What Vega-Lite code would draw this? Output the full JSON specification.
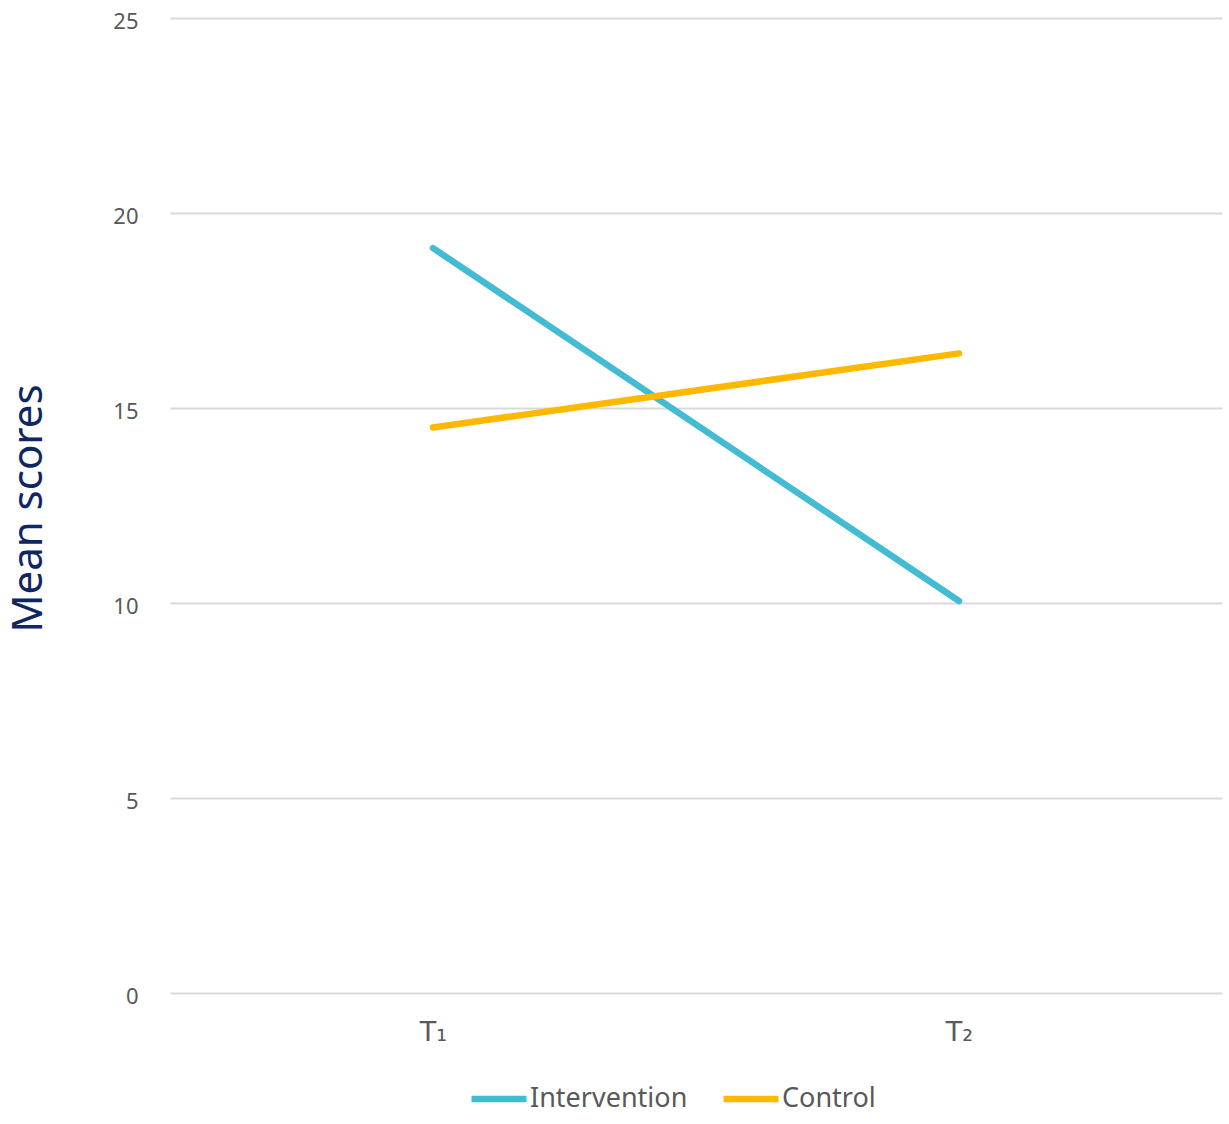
{
  "$schema": "https://vega.github.io/schema/vega-lite/v6.json",
  "autosize": {"type": "none"},
  "width": 1052,
  "height": 975,
  "padding": {"left": 170, "top": 18, "right": 7, "bottom": 131},
  "background": "white",
  "config": {"view": {"stroke": null}},
  "data": {
    "values": [
      {"time": "T₁", "group": "Intervention", "score": 19.1},
      {"time": "T₂", "group": "Intervention", "score": 10.05},
      {"time": "T₁", "group": "Control", "score": 14.5},
      {"time": "T₂", "group": "Control", "score": 16.4}
    ]
  },
  "mark": {"type": "line", "strokeWidth": 6.5, "strokeCap": "round"},
  "encoding": {
    "x": {
      "field": "time", "type": "nominal", "sort": ["T₁", "T₂"],
      "scale": {"paddingInner": 0, "paddingOuter": 0, "align": 0.5},
      "axis": {"title": null, "labelAngle": 0, "labelFontSize": 27, "labelColor": "#595959", "labelFont": "DejaVu Sans", "labelPadding": 26, "ticks": false, "domain": false, "grid": false}
    },
    "y": {
      "field": "score", "type": "quantitative",
      "scale": {"domain": [0, 25], "nice": false},
      "axis": {
        "values": [0, 5, 10, 15, 20, 25],
        "title": "Mean scores",
        "titleFont": "Noto Sans", "titleFontSize": 42, "titleFontWeight": "normal", "titleColor": "#0E2661",
        "titleAngle": -90, "titleAlign": "center", "titleBaseline": "middle",
        "titleX": -142, "titleY": 490,
        "labelFont": "Noto Sans", "labelFontSize": 22, "labelColor": "#595959", "labelPadding": 32, "labelOffset": 3,
        "ticks": false, "domain": false,
        "grid": true, "gridColor": "#D9D9D9", "gridWidth": 2
      }
    },
    "color": {
      "field": "group", "type": "nominal",
      "sort": ["Intervention", "Control"],
      "scale": {"domain": ["Intervention", "Control"], "range": ["#43BBD3", "#FFB800"]},
      "legend": {
        "title": null, "orient": "none", "direction": "horizontal",
        "legendX": 298, "legendY": 1050,
        "symbolType": "stroke", "symbolSize": 3025, "symbolStrokeWidth": 6.5,
        "labelFont": "Noto Sans", "labelFontSize": 27, "labelColor": "#595959",
        "labelOffset": 0, "columnPadding": 22, "labelLimit": 300
      }
    }
  }
}
